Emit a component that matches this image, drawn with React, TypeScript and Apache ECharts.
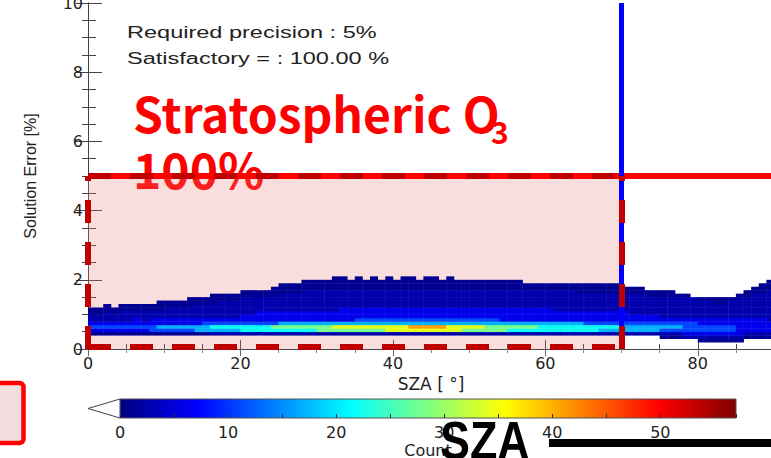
import React, { useEffect, useRef } from "react";
import * as echarts from "echarts";

// ---- axes ----
const SZA_MIN = 0;
const SZA_MAX = 90;
const SZA_INTERVAL = 20;
const ERR_MIN = 0;
const ERR_MAX = 10;
const ERR_INTERVAL = 2;
const COUNT_MIN = 0;
const COUNT_MAX = 57;
const COUNT_INTERVAL = 10;

// ---- thresholds ----
const REQUIRED_PRECISION = 5; // %
const SZA_LIMIT = 70; // degrees

// ---- density histogram ----
const SZA_STEP = 1; // degrees per column
const ERR_STEP = 0.1; // % per row
// one string per 1° SZA column (0..89); each char = density level of a 0.1 % error bin, from 0.0 % upward
const DENSITY_COLUMNS = [
  "00001 34322 11000 00000 0", // 0
  "00001 34322 11000 00000 0",
  "00001 34322 21100 00000 0",
  "00001 34322 11000 00000 0",
  "00001 34322 21100 00000 0",
  "00001 34322 21100 00000 0", // 5
  "00001 34332 21100 00000 0",
  "00001 34322 21100 00000 0",
  "00001 44332 21100 00000 0",
  "00001 45332 21110 00000 0",
  "00001 45332 22110 00000 0", // 10
  "00001 45332 22110 00000 0",
  "00001 45332 22110 00000 0",
  "00001 45332 22111 00000 0",
  "00001 55332 22211 00000 0",
  "00001 55432 22211 00000 0", // 15
  "00002 56432 22211 10000 0",
  "00002 56432 22221 10000 0",
  "00002 56432 22221 10000 0",
  "00002 56432 22221 10000 0",
  "00002 66433 22222 11000 0", // 20
  "00002 66433 22222 11000 0",
  "00002 66433 32222 11000 0",
  "00002 66433 32222 11000 0",
  "00002 67433 32222 11100 0",
  "00002 67533 32222 21110 0", // 25
  "00002 67533 32222 21110 0",
  "00002 67533 32222 21110 0",
  "00002 67533 32222 22111 0",
  "00002 67533 32222 22111 0",
  "00002 77533 32222 22111 0", // 30
  "00002 77533 32222 22111 0",
  "00002 78533 32222 22111 1",
  "00002 78533 33222 22111 1",
  "00002 78533 33222 22111 0",
  "00002 78543 33222 22111 1", // 35
  "00002 78543 33222 22111 0",
  "00002 78543 33222 22111 1",
  "00002 78543 33222 22111 0",
  "00002 88543 33222 22111 1",
  "00002 88543 33222 22111 0", // 40
  "00002 88543 33222 22111 1",
  "00002 89543 33222 22111 1",
  "00002 89543 33222 22111 0",
  "00002 89543 33222 22111 1",
  "00002 89543 33222 22111 1", // 45
  "00002 89543 33222 22111 0",
  "00002 88543 33222 22111 1",
  "00002 88543 33222 22111 0",
  "00002 78543 33222 22111 0",
  "00002 78543 33222 22111 0", // 50
  "00002 78543 33222 22111 0",
  "00002 77543 33222 22111 0",
  "00002 77543 33222 22111 0",
  "00002 77533 33222 22111 0",
  "00002 67533 33222 22111 0", // 55
  "00002 67533 33222 22111 0",
  "00002 67533 33222 22110 0",
  "00002 67533 33222 22110 0",
  "00002 66533 33222 22110 0",
  "00002 66533 33222 22110 0", // 60
  "00002 66533 32222 22110 0",
  "00002 66533 32222 22110 0",
  "00002 66533 32222 22110 0",
  "00002 66533 32222 21110 0",
  "00002 66433 32222 21110 0", // 65
  "00002 66433 32222 21110 0",
  "00002 56433 32222 21110 0",
  "00002 56433 32222 21110 0",
  "00002 56433 32222 21110 0",
  "00002 55433 32222 21100 0", // 70
  "00002 55433 22222 21100 0",
  "00002 55433 22222 21100 0",
  "00002 55433 22222 11000 0",
  "00002 55433 22222 11000 0",
  "00012 45432 22222 11000 0", // 75
  "00012 45432 22222 11000 0",
  "00012 45432 22222 10000 0",
  "00023 44432 22222 10000 0",
  "00023 44432 22222 00000 0",
  "00123 44332 22221 00000 0", // 80
  "00123 44332 22221 00000 0",
  "00123 44332 22211 00000 0",
  "00123 44332 22211 00000 0",
  "00123 44332 22221 00000 0",
  "00123 33332 22222 10000 0", // 85
  "00012 33332 22222 11000 0",
  "00012 33332 22222 21100 0",
  "00012 33332 22222 21110 0",
  "00012 33322 22222 22111 0",
];
// count represented by each density level
const LEVEL_COUNTS = [0, 1, 2.5, 6, 11, 17, 22, 28, 34, 41];

// jet colour map, evenly spaced stops
const JET = [
  "#000080",
  "#0000FF",
  "#0080FF",
  "#00FFFF",
  "#80FF80",
  "#FFFF00",
  "#FF8000",
  "#FF0000",
  "#800000",
];

const densityData: number[][] = [];
DENSITY_COLUMNS.forEach((col, i) => {
  const s = col.replace(/\s/g, "");
  for (let r = 0; r < s.length; r++) {
    const lv = Number(s[r]);
    if (lv > 0) densityData.push([SZA_MIN + i * SZA_STEP, r * ERR_STEP, LEVEL_COUNTS[lv]]);
  }
});

const TICK_FONT = "DejaVu Sans";
const PLOT_FONT = "Liberation Sans";
const SLIDE_FONT = "Noto Sans CJK KR";
const DARK_RED = "#C00000";

function emptyLine(z: number, extra: any) {
  return {
    type: "line",
    data: [],
    xAxisIndex: 0,
    yAxisIndex: 0,
    z,
    clip: false,
    silent: true,
    ...extra,
  };
}

export default function App() {
  const ref = useRef<HTMLDivElement>(null);

  useEffect(() => {
    if (!ref.current) return;
    const chart = echarts.init(ref.current, null, { renderer: "svg" });

    const dashMark = {
      symbol: ["none", "none"],
      silent: true,
      label: { show: false },
      emphasis: { disabled: true },
    };

    const option: any = {
      animation: false,
      backgroundColor: "#ffffff",
      grid: [
        { left: 88, top: 3, right: -3, bottom: 109, containLabel: false, outerBoundsMode: "none" },
        { left: 120, top: 399, width: 616, height: 19, containLabel: false, outerBoundsMode: "none" },
      ],
      visualMap: {
        type: "continuous",
        show: false,
        seriesIndex: 1,
        dimension: 2,
        min: COUNT_MIN,
        max: COUNT_MAX,
        inRange: { color: JET },
      },
      xAxis: [
        {
          gridIndex: 0,
          type: "value",
          min: SZA_MIN,
          max: SZA_MAX,
          interval: SZA_INTERVAL,
          position: "bottom",
          axisLine: { show: true, lineStyle: { color: "#444", width: 1 } },
          axisTick: { show: true, inside: true, length: 9, lineStyle: { color: "#444" } },
          minorTick: { show: true, splitNumber: 4, length: 5, lineStyle: { color: "#444" } },
          splitLine: { show: false },
          axisLabel: {
            fontFamily: TICK_FONT,
            fontSize: 16,
            color: "#222",
            margin: 6,
            showMaxLabel: false,
          },
          name: "SZA [ °]",
          nameLocation: "middle",
          nameGap: 24,
          nameTextStyle: { fontFamily: TICK_FONT, fontSize: 17, color: "#222" },
        },
        {
          gridIndex: 0,
          type: "value",
          min: SZA_MIN,
          max: SZA_MAX,
          interval: SZA_INTERVAL,
          position: "top",
          axisLine: { show: false },
          axisTick: { show: true, inside: true, length: 7, lineStyle: { color: "#666" } },
          minorTick: { show: true, splitNumber: 4, length: 4, lineStyle: { color: "#888" } },
          splitLine: { show: false },
          axisLabel: { show: false },
        },
        {
          gridIndex: 1,
          type: "value",
          min: COUNT_MIN,
          max: COUNT_MAX,
          interval: COUNT_INTERVAL,
          position: "bottom",
          axisLine: { show: false },
          axisTick: { show: true, inside: true, length: 4, lineStyle: { color: "#333" } },
          minorTick: { show: true, splitNumber: 2, length: 4, lineStyle: { color: "#333" } },
          splitLine: { show: false },
          axisLabel: {
            fontFamily: TICK_FONT,
            fontSize: 16,
            color: "#222",
            margin: 6,
            showMaxLabel: false,
          },
          name: "Count",
          nameLocation: "middle",
          nameGap: 24,
          nameTextStyle: { fontFamily: TICK_FONT, fontSize: 16, color: "#222" },
        },
      ],
      yAxis: [
        {
          gridIndex: 0,
          type: "value",
          min: ERR_MIN,
          max: ERR_MAX,
          interval: ERR_INTERVAL,
          position: "left",
          axisLine: { show: true, lineStyle: { color: "#444", width: 1 } },
          axisTick: { show: true, inside: true, length: 14, lineStyle: { color: "#444" } },
          minorTick: { show: true, splitNumber: 4, length: 8, lineStyle: { color: "#444" } },
          splitLine: { show: false },
          axisLabel: { fontFamily: TICK_FONT, fontSize: 16, color: "#222", margin: 5 },
          name: "Solution Error [%]",
          nameLocation: "middle",
          nameRotate: 90,
          nameGap: 50,
          nameTextStyle: { fontFamily: PLOT_FONT, fontSize: 16, color: "#222" },
        },
        {
          gridIndex: 0,
          type: "value",
          min: ERR_MIN,
          max: ERR_MAX,
          interval: ERR_INTERVAL,
          position: "right",
          axisLine: { show: true, lineStyle: { color: "#444" } },
          axisTick: { show: true, inside: true, length: 12, lineStyle: { color: "#444" } },
          minorTick: { show: true, splitNumber: 4, length: 6, lineStyle: { color: "#444" } },
          splitLine: { show: false },
          axisLabel: { show: false },
        },
        {
          gridIndex: 1,
          type: "value",
          min: 0,
          max: 1,
          show: false,
        },
      ],
      series: [
        // 0: shaded "satisfactory" box
        emptyLine(1, {
          markArea: {
            silent: true,
            itemStyle: { color: "rgba(235,125,125,0.25)" },
            label: { show: false },
            data: [[{ coord: [SZA_MIN, ERR_MIN] }, { coord: [SZA_LIMIT, REQUIRED_PRECISION] }]],
          },
        }),
        // 1: density histogram
        {
          type: "custom",
          xAxisIndex: 0,
          yAxisIndex: 0,
          z: 2,
          silent: true,
          clip: true,
          encode: { x: 0, y: 1 },
          data: densityData,
          renderItem: (params: any, api: any) => {
            const x0 = api.value(0);
            const y0 = api.value(1);
            const p1 = api.coord([x0, y0 + ERR_STEP]);
            const p2 = api.coord([x0 + SZA_STEP, y0]);
            return {
              type: "rect",
              shape: {
                x: p1[0],
                y: p1[1],
                width: p2[0] - p1[0] + 0.4,
                height: p2[1] - p1[1] + 0.4,
              },
              style: { fill: api.visual("color") },
            };
          },
        },
        // 2: required precision line
        emptyLine(3, {
          markLine: {
            ...dashMark,
            lineStyle: { color: "#FF0000", width: 6, type: "solid" },
            data: [{ yAxis: REQUIRED_PRECISION }],
          },
        }),
        // 3: dashed top edge of box
        emptyLine(4, {
          markLine: {
            ...dashMark,
            lineStyle: { color: DARK_RED, width: 6, type: [23, 19] },
            data: [[{ coord: [SZA_MIN, REQUIRED_PRECISION] }, { coord: [SZA_LIMIT, REQUIRED_PRECISION] }]],
          },
        }),
        // 4: SZA limit
        emptyLine(5, {
          markLine: {
            ...dashMark,
            lineStyle: { color: "#0000FF", width: 5, type: "solid" },
            data: [{ xAxis: SZA_LIMIT }],
          },
        }),
        // 5: dashed left / bottom / right edges of box
        emptyLine(6, {
          markLine: {
            ...dashMark,
            lineStyle: { color: DARK_RED, width: 6, type: [23, 19] },
            data: [
              [{ coord: [SZA_MIN, ERR_MIN] }, { coord: [SZA_MIN, REQUIRED_PRECISION] }],
              [{ coord: [SZA_MIN, ERR_MIN + 0.07] }, { coord: [SZA_LIMIT, ERR_MIN + 0.07] }],
              [{ coord: [SZA_LIMIT, ERR_MIN] }, { coord: [SZA_LIMIT, REQUIRED_PRECISION] }],
            ],
          },
        }),
        // 6: colour bar
        {
          type: "custom",
          xAxisIndex: 2,
          yAxisIndex: 2,
          z: -1,
          silent: true,
          clip: false,
          data: [[COUNT_MIN, COUNT_MAX]],
          renderItem: (params: any, api: any) => {
            const p0 = api.coord([api.value(0), 1]);
            const p1 = api.coord([api.value(1), 0]);
            const mid = api.coord([api.value(0), 0.5]);
            return {
              type: "group",
              children: [
                {
                  type: "rect",
                  shape: { x: p0[0], y: p0[1], width: p1[0] - p0[0], height: p1[1] - p0[1] },
                  style: {
                    fill: new echarts.graphic.LinearGradient(
                      0,
                      0,
                      1,
                      0,
                      JET.map((c, i) => ({ offset: i / (JET.length - 1), color: c }))
                    ),
                    stroke: "#555",
                    lineWidth: 1,
                  },
                },
                {
                  type: "polygon",
                  shape: {
                    points: [
                      [p0[0], p0[1]],
                      [p0[0], p1[1]],
                      [mid[0] - 32, mid[1]],
                    ],
                  },
                  style: { fill: "#ffffff", stroke: "#444", lineWidth: 1 },
                },
              ],
            };
          },
        },
      ],
      graphic: [
        {
          type: "text",
          x: 127,
          y: 32.5,
          scaleX: 1.47,
          silent: true,
          style: {
            text: "Required precision : 5%",
            fontFamily: PLOT_FONT,
            fontSize: 16,
            fill: "#222",
            align: "left",
            verticalAlign: "middle",
          },
        },
        {
          type: "text",
          x: 127,
          y: 58.5,
          scaleX: 1.47,
          silent: true,
          style: {
            text: "Satisfactory = : 100.00 %",
            fontFamily: PLOT_FONT,
            fontSize: 16,
            fill: "#222",
            align: "left",
            verticalAlign: "middle",
          },
        },
        {
          type: "text",
          x: 133,
          y: 112,
          silent: true,
          style: {
            text: "Stratospheric O",
            fontFamily: SLIDE_FONT,
            fontWeight: "bold",
            fontSize: 48,
            fill: "#FF0000",
            align: "left",
            verticalAlign: "middle",
          },
        },
        {
          type: "text",
          x: 491,
          y: 131,
          silent: true,
          style: {
            text: "3",
            fontFamily: SLIDE_FONT,
            fontWeight: "bold",
            fontSize: 30,
            fill: "#FF0000",
            align: "left",
            verticalAlign: "middle",
          },
        },
        {
          type: "text",
          x: 133,
          y: 168,
          silent: true,
          style: {
            text: "100%",
            fontFamily: SLIDE_FONT,
            fontWeight: "bold",
            fontSize: 48,
            fill: "#FF0000",
            align: "left",
            verticalAlign: "middle",
          },
        },
        {
          type: "rect",
          z: 100,
          silent: true,
          shape: { x: -20, y: 383, width: 43.5, height: 60, r: 4 },
          style: { fill: "#F2DEDE", stroke: "#FF0000", lineWidth: 4.5 },
        },
        {
          type: "text",
          x: 440,
          y: 441,
          z: 100,
          scaleX: 0.83,
          silent: true,
          style: {
            text: "SZA",
            fontFamily: PLOT_FONT,
            fontWeight: "bold",
            fontSize: 54,
            fill: "#000000",
            align: "left",
            verticalAlign: "middle",
          },
        },
        {
          type: "rect",
          z: 100,
          silent: true,
          shape: { x: 549, y: 439, width: 230, height: 8 },
          style: { fill: "#000000" },
        },
      ],
    };

    chart.setOption(option);
    return () => chart.dispose();
  }, []);

  return (
    <div
      ref={ref}
      style={{ position: "fixed", left: 0, top: 0, width: 771, height: 458, background: "#fff" }}
    />
  );
}
